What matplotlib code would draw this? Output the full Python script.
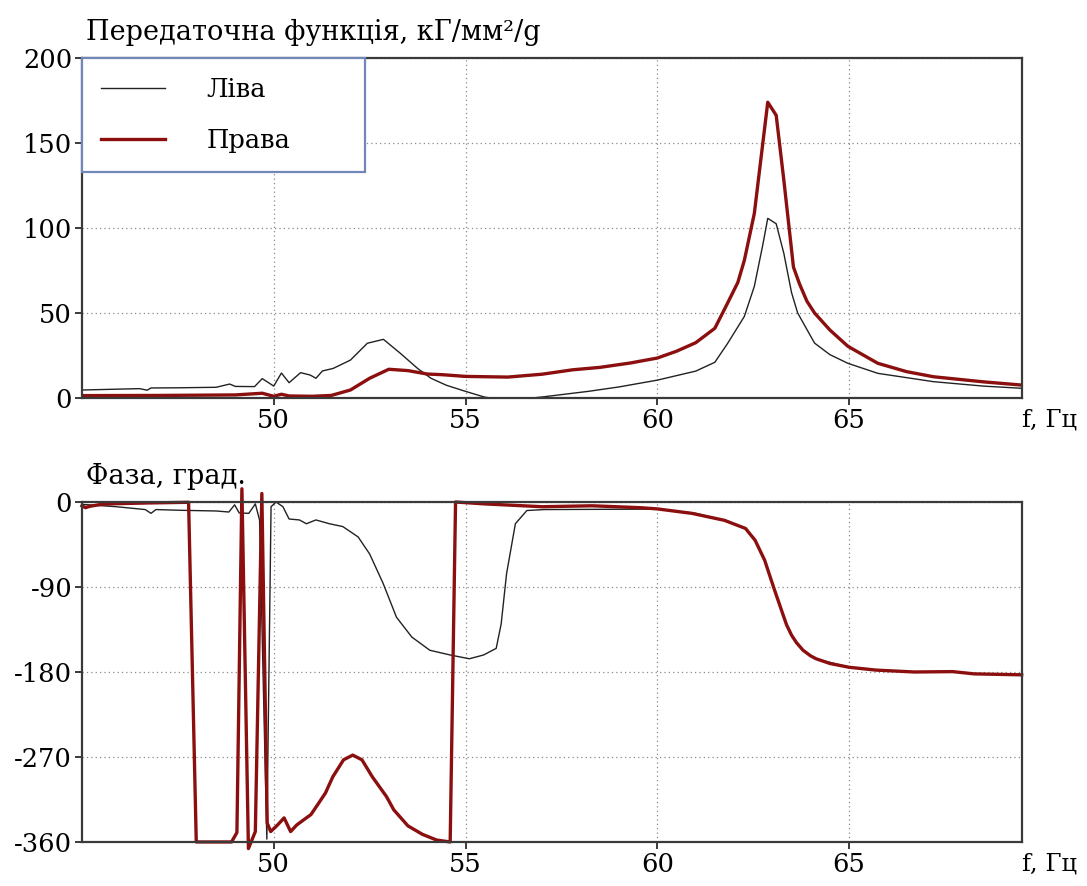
import matplotlib
matplotlib.use("Agg")
import matplotlib.pyplot as plt

plt.rcParams['font.family'] = ['DejaVu Serif']
plt.rcParams['axes.unicode_minus'] = False

# amplitude of transfer function, left side
f_left_amp = [45.0, 46.5, 46.7, 46.8, 47.5, 48.5, 48.85, 49.0, 49.5, 49.7, 50.0, 50.2,
              50.4, 50.7, 50.95, 51.1, 51.27, 51.55, 52.0, 52.44, 52.86, 53.3, 53.75,
              54.1, 54.5, 55.0, 55.5, 56.1, 57.0, 58.2, 59.0, 60.0, 61.0, 61.5, 61.83,
              62.27, 62.53, 62.75, 62.88, 63.1, 63.3, 63.5, 63.66, 64.1, 64.5, 64.97,
              65.75, 67.2, 68.5, 69.5]
left_amp = [4.7, 5.5, 4.6, 5.9, 6.0, 6.3, 8.2, 6.8, 6.7, 11.4, 7.0, 14.7,
            9.0, 14.9, 13.5, 11.6, 15.9, 17.4, 22.3, 32.2, 34.5, 26.3, 17.4,
            11.6, 7.5, 3.9, 0.5, -1.4, 0.6, 3.9, 6.5, 10.5, 15.8, 21.0, 32.0,
            48.0, 65.7, 90.0, 105.7, 102.5, 85.0, 62.0, 50.0, 32.3, 25.5, 20.4,
            14.5, 9.6, 7.0, 5.7]

# amplitude of transfer function, right side
f_right_amp = [45.0, 47.0, 49.0, 49.7, 50.0, 50.2, 50.4, 51.0, 51.5, 52.0, 52.5, 53.0,
               53.5, 54.0, 54.4, 55.0, 56.1, 57.0, 57.8, 58.5, 59.3, 60.0, 60.5, 61.0,
               61.5, 61.83, 62.1, 62.27, 62.53, 62.88, 63.1, 63.3, 63.55, 63.71, 63.9,
               64.1, 64.5, 64.97, 65.75, 66.5, 67.2, 68.5, 69.5]
right_amp = [1.4, 1.5, 1.8, 2.8, 1.0, 2.2, 1.2, 1.0, 1.5, 4.7, 11.6, 16.9,
             16.1, 14.1, 13.7, 12.7, 12.3, 14.0, 16.6, 18.0, 20.6, 23.5, 27.5, 32.5,
             41.0, 55.7, 68.0, 81.0, 108.6, 174.0, 166.3, 128.0, 77.0, 67.0, 57.0,
             50.0, 40.0, 30.4, 20.4, 15.5, 12.5, 9.5, 7.6]

# phase, left side
f_left_ph = [45.0, 45.9, 46.65, 46.8, 46.93, 47.6, 48.5, 48.83, 48.98, 49.1, 49.35,
             49.52, 49.63, 49.82, 49.93, 50.06, 50.24, 50.4, 50.67, 50.85, 51.1, 51.45,
             51.8, 52.2, 52.5, 52.85, 53.2, 53.6, 54.07, 54.6, 55.1, 55.47, 55.8, 55.93,
             56.07, 56.3, 56.6, 57.05, 60.0, 61.0, 61.75, 62.3, 62.55, 62.8, 63.03,
             63.25, 63.37, 63.5, 63.63, 63.8, 64.0, 64.14, 65.0, 65.7, 66.7, 67.7,
             68.26, 69.5]
left_ph = [-2.5, -5, -8, -12, -8, -8.8, -9.5, -10.6, -3, -11.6, -12,
           -2, -19, -357, -5, 0, -5, -18, -19, -23, -19, -23,
           -26, -37, -55, -86, -122, -143, -157, -162, -166, -162, -155, -129,
           -76, -23, -9, -8, -7.5, -12, -19.4, -28, -40.5, -61.7, -90,
           -116, -130, -141, -149, -157, -163, -166, -175, -178, -180, -179.6,
           -182, -183]

# phase, right side
f_right_ph = [45.0, 45.09, 45.2, 45.5, 45.87, 46.74, 47.78, 47.98, 48.9, 49.04, 49.17,
              49.34, 49.52, 49.69, 49.83, 49.92, 50.1, 50.27, 50.44, 50.6, 50.8, 50.97,
              51.17, 51.35, 51.54, 51.82, 52.06, 52.3, 52.57, 52.94, 53.13, 53.5, 53.88,
              54.25, 54.6, 54.74, 55.5, 57.0, 58.3, 59.55, 60.0, 60.9, 61.75, 62.3,
              62.55, 62.8, 63.03, 63.25, 63.37, 63.5, 63.63, 63.8, 64.0, 64.14, 64.5,
              65.0, 65.7, 66.7, 67.7, 68.26, 69.5]
right_ph = [-4, -6, -4.6, -2.5, -1.8, -1, -0.3, -360, -360, -350, 14,
            -367, -349, 9, -340, -349, -342, -334.5, -349, -342, -336, -331,
            -319, -308, -291, -273, -268, -273, -291, -312, -326, -343, -352,
            -358, -360, 0, -2, -5, -4, -6, -7.3, -12, -19.4, -28,
            -40.5, -61.7, -90, -116, -130, -141, -149, -157, -163, -166, -171,
            -175, -178, -180, -179.6, -182, -183]

x_ticks = [50, 55, 60, 65]
amp_ticks = [0, 50, 100, 150, 200]
ph_ticks = [0, -90, -180, -270, -360]

red = '#8b0f0f'
spine_col = '#3a3a3a'

fig = plt.figure(figsize=(10.87, 8.86), dpi=100)
ax1 = fig.add_axes([0.0754, 0.5508, 0.8645, 0.3837])
ax2 = fig.add_axes([0.0754, 0.0497, 0.8645, 0.3837])


def style(ax, yticks):
    ax.set_xlim(45, 69.5)
    ax.set_xticks(x_ticks)
    ax.set_yticks(yticks)
    ax.grid(True, linestyle=(0, (1, 2.5)), color='#8a8a8a', linewidth=0.9)
    for s in ax.spines.values():
        s.set_color(spine_col)
        s.set_linewidth(1.6)
    ax.tick_params(labelsize=18.5, length=5, width=1.4, color=spine_col, pad=2)


ax1.plot(f_left_amp, left_amp, color='#222222', linewidth=1.0, label='Ліва')
ax1.plot(f_right_amp, right_amp, color=red, linewidth=2.4, label='Права')
ax1.set_ylim(0, 200)
style(ax1, amp_ticks)
ax1.text(0.004, 1.035, 'Передаточна функція, кГ/мм²/g', transform=ax1.transAxes,
         fontsize=19.5, ha='left', va='bottom')
ax1.text(1.0, -0.03, 'f, Гц', transform=ax1.transAxes, fontsize=17.5, ha='left', va='top')

leg = ax1.legend(loc='upper left', bbox_to_anchor=(0, 1, 0.301, 0), mode='expand',
                 borderaxespad=0, fontsize=18.5, handlelength=2.5, handletextpad=1.6,
                 labelspacing=1.0, borderpad=0.74, fancybox=False, framealpha=1)
leg.get_frame().set_edgecolor('#6f88b8')
leg.get_frame().set_linewidth(1.6)

ax2.plot(f_left_ph, left_ph, color='#222222', linewidth=1.0)
ax2.plot(f_right_ph, right_ph, color=red, linewidth=2.4, clip_on=False)
ax2.set_ylim(-360, 0)
style(ax2, ph_ticks)
ax2.text(0.004, 1.035, 'Фаза, град.', transform=ax2.transAxes,
         fontsize=19.5, ha='left', va='bottom')
ax2.text(1.0, -0.03, 'f, Гц', transform=ax2.transAxes, fontsize=17.5, ha='left', va='top')

fig.savefig('out.png', dpi=100)
